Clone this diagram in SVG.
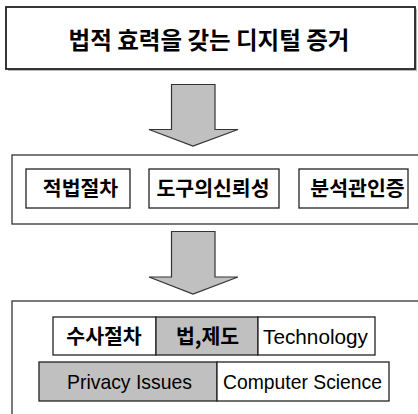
<svg xmlns="http://www.w3.org/2000/svg" width="418" height="414" viewBox="0 0 418 414">
<style>
.box{fill:#fff;stroke:#222;stroke-width:1.3}
.gbox{fill:#c0c0c0;stroke:#222;stroke-width:1.3}
.frame{fill:#fff;stroke:#333;stroke-width:1.3}
.arrow{fill:#c0c0c0;stroke:#333;stroke-width:1.2;stroke-linejoin:miter}
.ko{font-family:"Noto Sans CJK KR","Noto Sans",sans-serif;font-weight:bold;fill:#000;text-anchor:middle}
.en{font-family:"Liberation Sans",Arial,sans-serif;fill:#000;text-anchor:middle}
</style>
<rect width="418" height="414" fill="#fff"/>
<g id="title">
<rect x="8" y="9" width="409" height="62" fill="#b8b8b8"/>
<rect x="6" y="7" width="409" height="62" fill="#fff" stroke="#222" stroke-width="1.8"/>
<text class="ko" x="209" y="49" font-size="23.5">법적 효력을 갖는 디지털 증거</text>
</g>
<g id="connectors">
<path class="arrow" d="M171.5,84.5 H215 V129.5 H238 L193,146 L149,129.5 H171.5 Z"/>
<path class="arrow" d="M171.5,231.5 H215 V277 H238 L193,294 L149,277 H171.5 Z"/>
</g>
<g id="criteria">
<rect class="frame" x="12" y="155" width="420" height="69"/>
<g id="n1"><rect class="box" x="26" y="169" width="104" height="39"/><text class="ko" x="80.5" y="196" font-size="20.5">적법절차</text></g>
<g id="n2"><rect class="box" x="149" y="169" width="130" height="39"/><text class="ko" x="213" y="196" font-size="20.5">도구의신뢰성</text></g>
<g id="n3"><rect class="box" x="299" y="169" width="109" height="39"/><text class="ko" x="357.5" y="196" font-size="20.5">분석관인증</text></g>
</g>
<g id="fields">
<rect class="frame" x="12" y="301" width="420" height="130"/>
<g id="f1"><rect class="box" x="53" y="317" width="103" height="38"/><text class="ko" x="104" y="344" font-size="20.5">수사절차</text></g>
<g id="f2"><rect class="gbox" x="156" y="317" width="102" height="38"/><text class="ko" x="207.5" y="344" font-size="20.5">법,제도</text></g>
<g id="f3"><rect class="box" x="258" y="317" width="117" height="38"/><text class="en" x="315.5" y="344" font-size="21" textLength="105" lengthAdjust="spacingAndGlyphs">Technology</text></g>
<g id="f4"><rect class="gbox" x="39" y="362" width="178" height="39"/><text class="en" x="129.5" y="389" font-size="21" textLength="125" lengthAdjust="spacingAndGlyphs">Privacy Issues</text></g>
<g id="f5"><rect class="box" x="217" y="362" width="172" height="39"/><text class="en" x="302.5" y="389" font-size="21" textLength="159" lengthAdjust="spacingAndGlyphs">Computer Science</text></g>
</g>
</svg>
